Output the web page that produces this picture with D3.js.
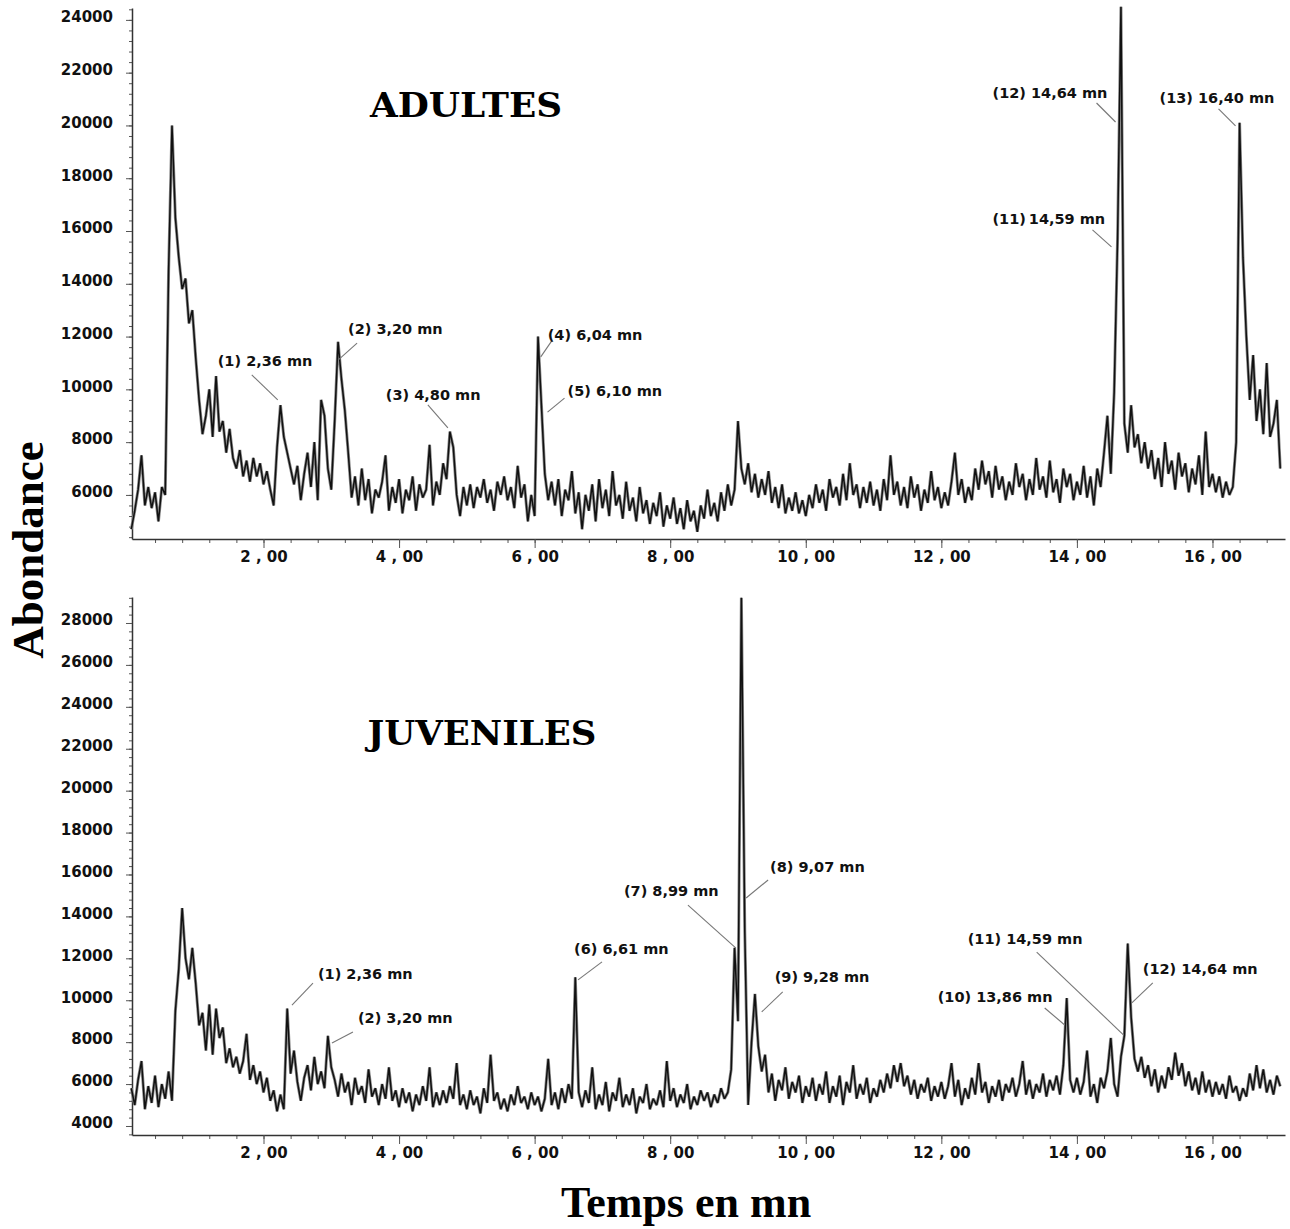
<!DOCTYPE html>
<meta charset="utf-8" />
<script src="https://d3js.org/d3.v7.min.js"></script>
<style>
  body {
    margin: 0;
    background: #fff;
  }
  .tick text {
    font-family: "DejaVu Sans", sans-serif;
    font-weight: bold;
    font-size: 15px;
    fill: #111;
  }
  .annot {
    font-family: "DejaVu Sans", sans-serif;
    font-weight: bold;
    font-size: 14.5px;
    fill: #111;
  }
</style>
<title>Chromatogrammes adultes / juveniles</title>
<body>
  <div id="chart"></div>
  <script>
    // chromatograms sampled every 0.05 mn, starting at 0.05 mn
    var timeStart = 0.05,
      timeStep = 0.05;

    var adultes = [
      4700, 5400, 6200, 7500, 5600, 6300, 5500, 6100, 5000, 6300, 6000, 14500, 20000, 16500, 15000, 13800, 14200, 12500, 13000, 11200,
      9600, 8300, 9000, 10000, 8200, 10500, 8400, 8800, 7600, 8500, 7400, 7000, 7700, 6700, 7300, 6500, 7400, 6700, 7200, 6400,
      6900, 6200, 5600, 7800, 9400, 8200, 7600, 7000, 6400, 7100, 5800, 6800, 7600, 6300, 8000, 5800, 9600, 9000, 7000, 6200,
      8800, 11800, 10400, 9200, 7600, 5900, 6700, 5600, 7000, 5800, 6600, 5300, 6200, 5900, 6500, 7500, 5400, 6300, 5700, 6600,
      5300, 6200, 5800, 6700, 5400, 6400, 5900, 6200, 7900, 5600, 6500, 6000, 7200, 6600, 8400, 7800, 6000, 5200, 6300, 5600,
      6400, 5500, 6300, 5900, 6600, 5700, 6200, 5400, 6500, 6000, 6700, 5800, 6300, 5500, 7100, 5900, 6400, 5000, 6000, 5200,
      12000, 9400, 6800, 5800, 6500, 5600, 6600, 5200, 6200, 5800, 6900, 5300, 6100, 4700, 6000, 5400, 6400, 5000, 6600, 5500,
      6200, 5200, 6900, 5600, 6000, 5100, 6500, 5400, 5900, 5000, 6300, 5300, 5800, 4900, 5700, 5200, 6100, 4800, 5600, 5100,
      5900, 4900, 5500, 4700, 5800, 5000, 5400, 4600, 5600, 5100, 6200, 5200, 5700, 5000, 6100, 5400, 6400, 5600, 6200, 8800,
      7000, 6400, 7200, 6100, 6800, 5900, 6600, 6000, 6900, 5700, 6300, 5500, 6400, 5300, 5900, 5400, 6100, 5300, 5800, 5200,
      6000, 5500, 6400, 5700, 6200, 5400, 6600, 5900, 6300, 5600, 6800, 5800, 7200, 6000, 6400, 5500, 6300, 5700, 6500, 5600,
      6200, 5400, 6600, 5800, 7500, 6000, 6500, 5600, 6300, 5500, 6700, 5900, 6400, 5400, 6200, 5700, 6900, 5800, 6300, 5500,
      6100, 5600, 6500, 7600, 6000, 6600, 5700, 6300, 5800, 7000, 6200, 7300, 6400, 6900, 5900, 7100, 6200, 6700, 5800, 6500,
      6000, 7200, 6300, 6800, 5800, 6600, 6000, 7400, 6200, 6700, 5900, 7300, 6100, 6600, 5700, 7000, 6300, 6800, 5800, 6500,
      6000, 7100, 5900, 6700, 5600, 7000, 6300, 7600, 9000, 6800, 9900, 15700, 24500, 8700, 7600, 9400, 7800, 8300, 7200, 8000,
      7000, 7700, 6600, 7400, 6300, 8000, 6800, 7300, 6200, 7600, 6700, 7200, 6100, 7000, 6400, 7500, 6000, 8400, 6300, 6800,
      6100, 6700, 5900, 6500, 6000, 6300, 8000, 20100, 15000, 12000, 9600, 11300, 8800, 10000, 8300, 11000, 8200, 8700, 9600, 7000
    ];

    var juveniles = [
      5800, 5000, 6200, 7100, 4800, 5900, 5100, 6400, 4900, 6000, 5300, 6600, 5200, 9500, 11500, 14400, 12000, 11000, 12500, 10800,
      8800, 9400, 7600, 9800, 7400, 9600, 8200, 8700, 7000, 7700, 6800, 7300, 6500, 7100, 8400, 6200, 6900, 6000, 6600, 5600,
      6300, 5200, 5700, 4700, 5500, 4800, 9600, 6500, 7600, 6100, 5200, 6300, 6900, 5700, 7300, 6000, 6600, 5800, 8300, 6800,
      6200, 5400, 6500, 5600, 6100, 5000, 6300, 5500, 5900, 5100, 6700, 5400, 5800, 5000, 6000, 5300, 6800, 5200, 5700, 4900,
      5800, 5100, 5600, 4700, 5500, 5000, 5900, 5200, 6800, 4900, 5600, 5000, 5700, 5100, 5900, 5300, 7000, 5000, 5500, 4800,
      5700, 5000, 5400, 4600, 5800, 5100, 7400, 5200, 5600, 4800, 5300, 4700, 5500, 5000, 5900, 5100, 5400, 4800, 5600, 5000,
      5400, 4700, 5300, 7200, 5000, 5600, 4800, 5800, 5100, 6000, 5300, 11100, 5600, 4900, 5700, 5100, 6800, 4800, 5500, 5000,
      6100, 4700, 5600, 5200, 6300, 4900, 5500, 5000, 5800, 4600, 5400, 5100, 6000, 4800, 5300, 5000, 5700, 4900, 7100, 5200,
      5800, 4900, 5500, 5100, 6000, 4800, 5400, 5000, 5700, 5200, 5600, 4900, 5500, 5100, 5800, 5300, 5600, 6700, 12500, 9000,
      29200, 13300, 5000, 8000, 10300, 7800, 6600, 7400, 5600, 6500, 5200, 6200, 5700, 6800, 5300, 6100, 5600, 6400, 5100, 5900,
      5400, 6300, 5200, 6000, 5500, 6600, 5100, 5900, 5400, 6400, 5000, 6100, 5600, 6900, 5300, 6000, 5500, 6300, 5100, 5800,
      5400, 6200, 5600, 6500, 5800, 6900, 6100, 7000, 5900, 6400, 5500, 6200, 5300, 6000, 5600, 6300, 5200, 5900, 5400, 6100,
      5300, 5900, 7000, 5400, 6200, 5000, 5800, 5300, 6300, 5500, 7000, 5600, 6100, 5100, 5900, 5400, 6200, 5200, 6000, 5600,
      6300, 5400, 6000, 7100, 5500, 6200, 5300, 6000, 5600, 6500, 5400, 6200, 5700, 6400, 5500, 6900, 10100, 6200, 5600, 6300,
      5500, 6100, 7600, 5400, 6000, 5100, 6300, 5800, 6600, 8200, 6000, 5400, 7300, 8300, 12700, 9200, 7200, 6600, 7300, 6300,
      6900, 5900, 6700, 5600, 6400, 5800, 6800, 6200, 7500, 6400, 7000, 5900, 6600, 5700, 6300, 5500, 6600, 5600, 6200, 5400,
      6100, 5500, 6000, 5300, 6400, 5600, 5900, 5200, 5800, 5400, 6500, 5700, 6900, 5800, 6700, 5600, 6200, 5500, 6400, 5900
    ];

    // axis ticks
    var xTicks = [2, 4, 6, 8, 10, 12, 14, 16];
    var xTickLabels = ["2 , 00", "4 , 00", "6 , 00", "8 , 00", "10 , 00", "12 , 00", "14 , 00", "16 , 00"];
    var yTicksAdultes = [6000, 8000, 10000, 12000, 14000, 16000, 18000, 20000, 22000, 24000];
    var yTicksJuveniles = [4000, 6000, 8000, 10000, 12000, 14000, 16000, 18000, 20000, 22000, 24000, 26000, 28000];

    // peak annotations: label, time (mn) and abundance the leader points at
    var peakLabelsAdultes = ["(1) 2,36 mn", "(2) 3,20 mn", "(3) 4,80 mn", "(4) 6,04 mn", "(5) 6,10 mn", "(11)\u200914,59 mn", "(12) 14,64 mn", "(13) 16,40 mn"];
    var peakTimesAdultes = [2.21, 3.1, 4.72, 6.09, 6.19, 14.51, 14.57, 16.34];
    var peakValuesAdultes = [9600, 11110, 8540, 11230, 9140, 15400, 20130, 19980];

    var peakLabelsJuveniles = ["(1) 2,36 mn", "(2) 3,20 mn", "(6) 6,61 mn", "(7) 8,99 mn", "(8) 9,07 mn", "(9) 9,28 mn", "(10) 13,86 mn", "(11) 14,59 mn", "(12) 14,64 mn"];
    var peakTimesJuveniles = [2.42, 3.01, 6.64, 8.97, 9.12, 9.35, 13.82, 14.69, 14.81];
    var peakValuesJuveniles = [9770, 7960, 10970, 12490, 14880, 9440, 8820, 8340, 9870];

    // label placement relative to the leader tip: [label dx, label dy, leader dx, leader dy]
    var annotLayoutAdultes = [
      [-60, -34, -26, -25], [10, -26, 19, -17], [-62, -28, -20, -23], [7, -17, 11, -16],
      [20, -16, 17, -14], [-119, -23, -19, -17], [-123, -24, -19, -19], [-76, -23, -17, -17]
    ];
    var annotLayoutJuveniles = [
      [26, -26, 21, -22], [26, -20, 21, -11], [-4, -26, 24, -18], [-112, -52, -48, -43],
      [24, -26, 22, -18], [13, -30, 21, -20], [-127, -23, -20, -17], [-156, -91, -87, -83], [11, -29, 21, -20]
    ];

    var width = 1290,
      height = 1229;

    var svg = d3
      .select("#chart")
      .append("svg")
      .attr("width", width)
      .attr("height", height);

    var x = d3.scaleLinear().domain([0.06, 17.07]).range([132, 1285]);

    var panels = [
      {
        name: "ADULTES", values: adultes, yDomain: [4330, 24450], yRange: [539, 8], yTicks: yTicksAdultes,
        titleX: 466, titleY: 117, titleLen: 192, labels: peakLabelsAdultes, times: peakTimesAdultes, peaks: peakValuesAdultes, layout: annotLayoutAdultes
      },
      {
        name: "JUVENILES", values: juveniles, yDomain: [3570, 29240], yRange: [1135, 597], yTicks: yTicksJuveniles,
        titleX: 482, titleY: 745, titleLen: 229, labels: peakLabelsJuveniles, times: peakTimesJuveniles, peaks: peakValuesJuveniles, layout: annotLayoutJuveniles
      }
    ];

    panels.forEach(function(p) {
      var y = d3.scaleLinear().domain(p.yDomain).range(p.yRange);
      var g = svg.append("g");

      // minor ticks
      g.append("g")
        .attr("transform", "translate(0," + p.yRange[0] + ")")
        .call(d3.axisBottom(x).tickValues(d3.range(0.4, 17.01, 0.4)).tickSize(4).tickFormat(""))
        .call(function(s) { s.select(".domain").remove(); });
      g.append("g")
        .attr("transform", "translate(132,0)")
        .call(d3.axisLeft(y).tickValues(d3.range(Math.ceil(p.yDomain[0] / 400) * 400, p.yDomain[1], 400)).tickSize(3).tickFormat(""))
        .call(function(s) { s.select(".domain").remove(); });

      // x axis
      g.append("g")
        .attr("transform", "translate(0," + p.yRange[0] + ")")
        .call(
          d3.axisBottom(x)
            .tickValues(xTicks)
            .tickFormat(function(d, i) { return xTickLabels[i]; })
            .tickSize(9)
            .tickSizeOuter(0)
            .tickPadding(3)
        );

      // y axis
      var ya = g.append("g")
        .attr("transform", "translate(132,0)")
        .call(d3.axisLeft(y).tickValues(p.yTicks).tickFormat(d3.format("d")).tickSize(6).tickSizeOuter(0).tickPadding(13));
      ya.selectAll(".tick text").attr("dy", "0.12em");

      g.selectAll(".domain").attr("stroke", "#333").attr("stroke-width", 1.5);
      g.selectAll(".tick line").attr("stroke", "#555");

      // chromatogram trace: grey halo under a dark line, like the scanned trace
      var line = d3.line()
        .x(function(d, i) { return x(timeStart + i * timeStep); })
        .y(function(d) { return y(d); });

      g.append("path")
        .datum(p.values)
        .attr("d", line)
        .attr("fill", "none")
        .attr("stroke", "#8a8a8a")
        .attr("stroke-width", 3)
        .attr("stroke-linejoin", "bevel");
      g.append("path")
        .datum(p.values)
        .attr("d", line)
        .attr("fill", "none")
        .attr("stroke", "#111")
        .attr("stroke-width", 1.5)
        .attr("stroke-linejoin", "bevel");

      // panel title
      g.append("text")
        .attr("x", p.titleX)
        .attr("y", p.titleY)
        .attr("text-anchor", "middle")
        .attr("textLength", p.titleLen)
        .attr("lengthAdjust", "spacingAndGlyphs")
        .style("font-family", "'DejaVu Serif', serif")
        .style("font-weight", "bold")
        .style("font-size", "34px")
        .text(p.name);

      // peak annotations
      p.labels.forEach(function(lab, i) {
        var tx = x(p.times[i]),
          ty = y(p.peaks[i]),
          l = p.layout[i];
        g.append("line")
          .attr("x1", tx + l[2])
          .attr("y1", ty + l[3])
          .attr("x2", tx)
          .attr("y2", ty)
          .attr("stroke", "#777")
          .attr("stroke-width", 1.1);
        g.append("text")
          .attr("class", "annot")
          .attr("x", tx + l[0])
          .attr("y", ty + l[1])
          .text(lab);
      });
    });

    // axis titles
    svg.append("text")
      .attr("transform", "translate(43,550) rotate(-90)")
      .attr("text-anchor", "middle")
      .style("font-family", "'Liberation Serif', serif")
      .style("font-weight", "bold")
      .style("font-size", "45px")
      .text("Abondance");

    svg.append("text")
      .attr("x", 686)
      .attr("y", 1217)
      .attr("text-anchor", "middle")
      .style("font-family", "'Liberation Serif', serif")
      .style("font-weight", "bold")
      .style("font-size", "44px")
      .text("Temps en mn");
  </script>
</body>
